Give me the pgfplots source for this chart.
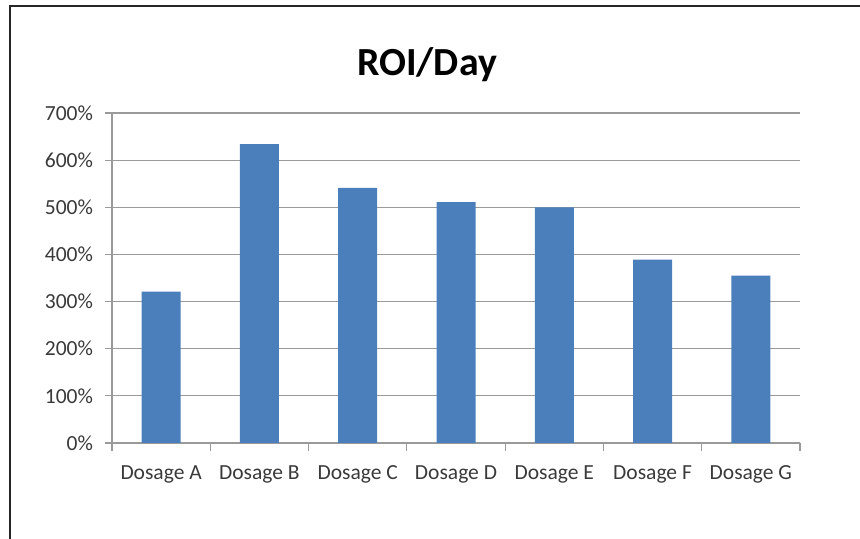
\documentclass[border=0pt]{standalone}
\usepackage{fontspec}
\setmainfont{Carlito}
\usepackage{pgfplots}
\pgfplotsset{compat=1.18}
\definecolor{barblue}{HTML}{4A7FBC}
\definecolor{gridgray}{HTML}{9A9A9A}
\definecolor{txt}{HTML}{3A3A3A}
\begin{document}
\begin{tikzpicture}[x=0.5bp,y=0.5bp]
\path[use as bounding box] (0,0) rectangle (860,539);
\draw[line width=1bp, black!85] (10,0) -- (10,533) -- (860,533);
\node[font=\fontsize{20}{24}\selectfont\bfseries, anchor=base, inner sep=0pt] at (427,463) {ROI/Day};
\begin{axis}[
  at={(56bp,48bp)}, anchor=south west,
  scale only axis, width=344bp, height=165bp,
  xmin=-0.5, xmax=6.5, ymin=0, ymax=700,
  ybar, bar width=19.5bp,
  axis x line*=bottom, axis y line*=left,
  axis line style={gridgray, line width=0.6bp},
  ytick={0,100,...,700},
  yticklabel={\pgfmathprintnumber{\tick}\%},
  /pgf/number format/assume math mode=true,
  ymajorgrids,
  major grid style={gridgray, line width=0.6bp},
  xtick={0,1,2,3,4,5,6},
  xticklabels={Dosage A,Dosage B,Dosage C,Dosage D,Dosage E,Dosage F,Dosage G},
  minor xtick={-0.5,0.5,1.5,2.5,3.5,4.5,5.5,6.5},
  major x tick style={draw=none},
  minor x tick style={draw=gridgray, line width=0.6bp},
  tick align=outside,
  major tick length=3.5bp, minor tick length=4bp,
  tick style={gridgray, line width=0.6bp},
  ticklabel style={font=\fontsize{10.8}{13}\selectfont, text=txt},
  xticklabel style={yshift=-4.5bp},
  yticklabel style={xshift=-2.5bp},
]
\addplot[fill=barblue, draw=none] coordinates {
  (0,321) (1,634) (2,541) (3,511) (4,500) (5,389) (6,355)
};
\end{axis}
\end{tikzpicture}
\end{document}
